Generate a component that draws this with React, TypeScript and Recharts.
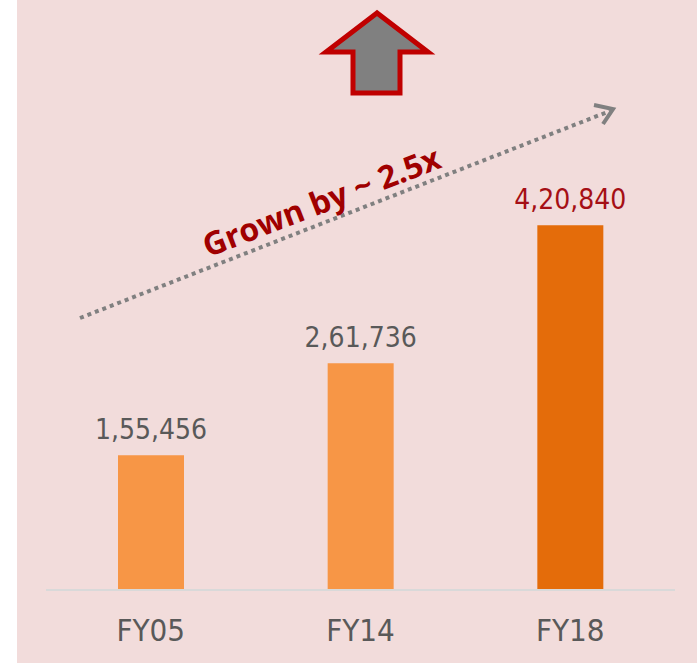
import React from 'react';
import { BarChart, Bar, XAxis, YAxis, Cell, LabelList } from 'recharts';

// ============================================================================
// Data
// ============================================================================

const categories = ['FY05', 'FY14', 'FY18'];
const values = [155456, 261736, 420840];
const valueLabels = ['1,55,456', '2,61,736', '4,20,840'];
const barColors = ['#F79646', '#F79646', '#E46C0A'];
const labelColors = ['#595959', '#595959', '#A50F15'];

const chartData = categories.map((category, i) => ({
  category,
  value: values[i],
  label: valueLabels[i],
}));

const FONT = "'Liberation Sans Narrow', 'DejaVu Sans Condensed', 'Open Sans', sans-serif";

// ============================================================================
// Custom renderers
// ============================================================================

// eslint-disable-next-line @typescript-eslint/no-explicit-any
const CategoryTick = (props: any) => {
  const { x, y, payload } = props;
  return (
    <text x={x} y={y + 43} textAnchor="middle" fill="#595959" fontSize={31} fontFamily={FONT}>
      {payload.value}
    </text>
  );
};

// eslint-disable-next-line @typescript-eslint/no-explicit-any
const ValueLabel = (props: any) => {
  const { x, y, width, index, value } = props;
  return (
    <text x={x + width / 2} y={y - 16} textAnchor="middle" fill={labelColors[index]} fontSize={28} fontFamily={FONT}>
      {value}
    </text>
  );
};

// Decorations: up arrow, dotted growth arrow, callout text
const Decorations = () => (
  <svg width={697} height={663} style={{ position: 'absolute', left: 0, top: 0, pointerEvents: 'none' }}>
    <polygon
      points="377,13 326,52 353,52 353,93 400,93 400,52 428,52"
      fill="#808080"
      stroke="#C00000"
      strokeWidth={5}
      strokeLinejoin="miter"
    />
    <line x1={80} y1={318} x2={610} y2={111} stroke="#808080" strokeWidth={4} strokeDasharray="4 4" />
    <polyline points="594,105 613,109 603,124" fill="none" stroke="#808080" strokeWidth={4} />
    <text
      x={322}
      y={213}
      transform="rotate(-21 322 203)"
      textAnchor="middle"
      fill="#A00000"
      fontSize={32}
      fontWeight="bold"
      fontFamily="'Open Sans', 'DejaVu Sans', sans-serif"
    >
      Grown by ~ 2.5x
    </text>
  </svg>
);

// ============================================================================
// Component
// ============================================================================

export default function App() {
  return (
    <div style={{ position: 'absolute', left: 0, top: 0, width: 697, height: 663, background: '#FFFFFF' }}>
      <div style={{ position: 'absolute', left: 17, top: 0, width: 680, height: 663, background: '#F2DCDB' }} />
      <div style={{ position: 'absolute', left: 0, top: 0 }}>
        <BarChart
          width={697}
          height={663}
          data={chartData}
          margin={{ top: 70, right: 22, left: 46, bottom: 13 }}
        >
          <XAxis
            dataKey="category"
            height={60}
            axisLine={{ stroke: '#D9D9D9', strokeWidth: 2 }}
            tickLine={false}
            tick={<CategoryTick />}
          />
          <YAxis hide domain={[0, 600000]} />
          <Bar dataKey="value" barSize={66} isAnimationActive={false}>
            {chartData.map((d, i) => (
              <Cell key={d.category} fill={barColors[i]} />
            ))}
            <LabelList dataKey="label" content={<ValueLabel />} />
          </Bar>
        </BarChart>
      </div>
      <Decorations />
    </div>
  );
}
